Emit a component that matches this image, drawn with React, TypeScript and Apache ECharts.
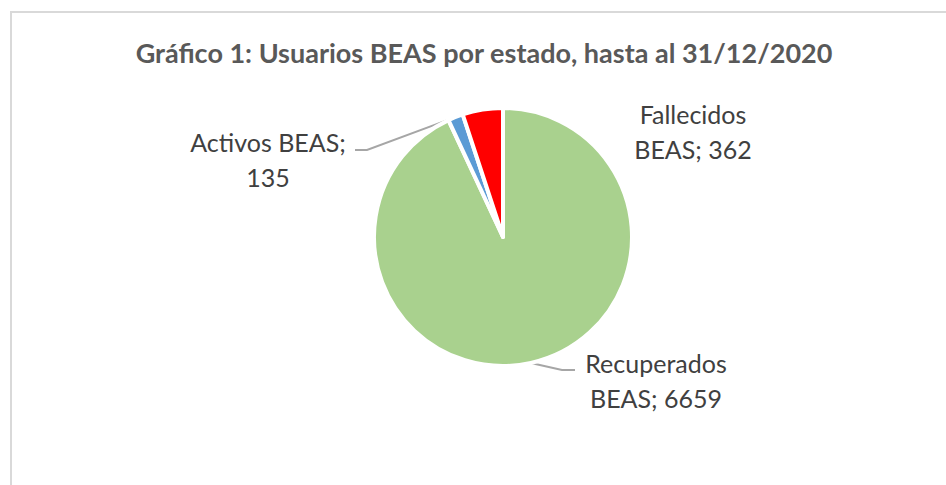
import React, { useEffect, useRef } from "react";
import * as echarts from "echarts";

const titleText = "Gráfico 1: Usuarios BEAS por estado, hasta al 31/12/2020";
const categories = ["Recuperados BEAS", "Activos BEAS", "Fallecidos BEAS"];
const labelLines = [
  ["Recuperados", "BEAS; 6659"],
  ["Activos BEAS;", "135"],
  ["Fallecidos", "BEAS; 362"],
];
const values = [6659, 135, 362];
const colors = ["#A9D18E", "#5B9BD5", "#FF0000"];

// label layout (position of label block centers and leader-line bends)
const labelPos = [
  { x: 656, y: 380, line: [[575, 370], [562, 370]] },
  { x: 268, y: 159, line: [[355, 150], [367, 150]] },
  { x: 693, y: 131, line: null as any },
];

export default function App() {
  const ref = useRef<HTMLDivElement>(null);
  useEffect(() => {
    if (!ref.current) return;
    const chart = echarts.init(ref.current, null, { renderer: "svg" });
    chart.setOption({
      animation: false,
      backgroundColor: "#ffffff",
      graphic: [
        {
          type: "rect",
          shape: { x: 11, y: 12, width: 1000, height: 1000 },
          style: { fill: "none", stroke: "#D9D9D9", lineWidth: 2 },
          silent: true,
        },
        {
          type: "text",
          x: 484,
          y: 52,
          style: {
            text: titleText,
            align: "center",
            verticalAlign: "middle",
            font: "bold 27px Lato",
            fill: "#595959",
          },
        },
      ],
      series: [
        {
          type: "pie",
          center: [503, 237],
          radius: [0, 129],
          startAngle: 90,
          clockwise: true,
          avoidLabelOverlap: false,
          itemStyle: { borderColor: "#ffffff", borderWidth: 4 },
          label: {
            show: true,
            position: "outside",
            fontFamily: "Lato",
            fontSize: 25,
            lineHeight: 35,
            color: "#404040",
            align: "center",
            formatter: (p: any) => labelLines[p.dataIndex].join("\n"),
          },
          labelLine: {
            show: true,
            lineStyle: { color: "#A6A6A6", width: 2 },
          },
          labelLayout: (p: any) => {
            const lp = labelPos[p.dataIndex];
            const res: any = {
              x: lp.x,
              y: lp.y,
              align: "center",
              verticalAlign: "middle",
            };
            if (lp.line && p.labelLinePoints) {
              const start = p.labelLinePoints[0];
              res.labelLinePoints = [start, lp.line[1], lp.line[0]];
            }
            return res;
          },
          data: categories.map((name, i) => ({
            name,
            value: values[i],
            itemStyle: { color: colors[i] },
            labelLine: { show: i !== 2 },
          })),
        },
      ],
    });
    return () => chart.dispose();
  }, []);
  return (
    <div
      ref={ref}
      style={{ position: "fixed", left: 0, top: 0, width: 946, height: 485 }}
    />
  );
}
